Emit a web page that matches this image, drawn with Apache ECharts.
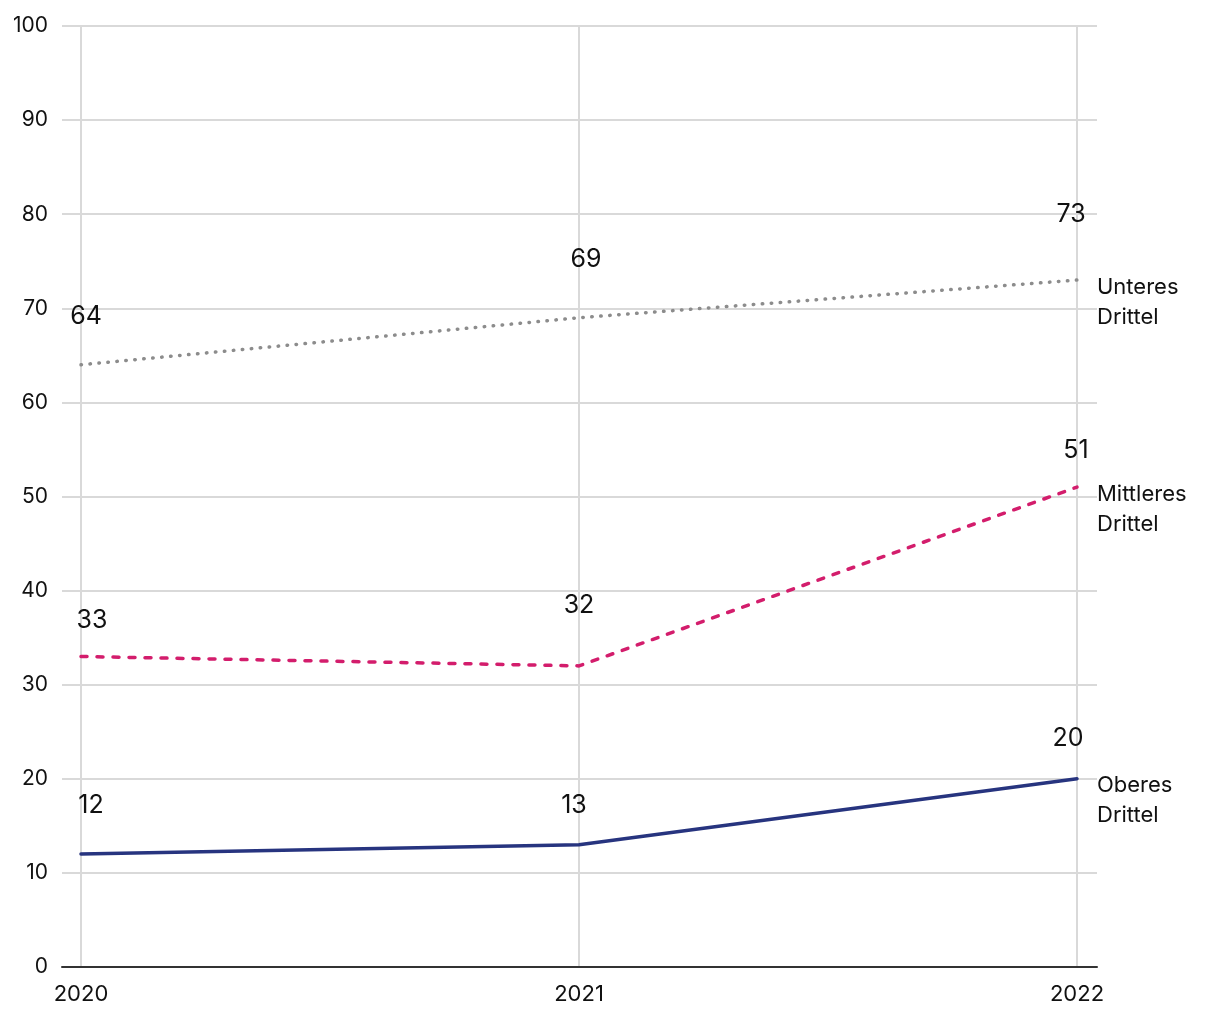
<!DOCTYPE html>
<html>
<head>
<meta charset="utf-8">
<script src="https://cdn.jsdelivr.net/npm/echarts@6/dist/echarts.min.js"></script>
<style>html,body{margin:0;padding:0;background:#fff}#c{width:1220px;height:1020px}</style>
</head>
<body>
<div id="c"></div>
<script>
const years = ['2020', '2021', '2022'];
const unteres = [64, 69, 73];
const mittleres = [33, 32, 51];
const oberes = [12, 13, 20];
const yTicks = [0, 10, 20, 30, 40, 50, 60, 70, 80, 90, 100];
const seriesNames = ['Unteres\nDrittel', 'Mittleres\nDrittel', 'Oberes\nDrittel'];

// label placement (layout, separate from data)
const labelOffsets = {
  u: [[5, -48], [7, -58], [-6, -66]],
  m: [[11, -36], [0, -60], [-1, -37]],
  o: [[10, -49], [-5, -39], [-9, -40]]
};

const FONT = 'Inter';
const chart = echarts.init(document.getElementById('c'));

function withLabels(values, offs) {
  return values.map((v, i) => ({
    value: v,
    label: { offset: offs[i] }
  }));
}

function mkSeries(name, values, offs, color, type, width) {
  return {
    type: 'line',
    name: name,
    xAxisIndex: 0,
    yAxisIndex: 0,
    data: withLabels(values, offs),
    symbol: 'circle',
    symbolSize: 1,
    showSymbol: true,
    itemStyle: { color: 'rgba(0,0,0,0)' },
    lineStyle: { color: color, width: width, type: type, cap: 'round' },
    label: {
      show: true,
      position: 'inside',
      color: '#111',
      fontFamily: FONT,
      fontSize: 25
    },
    endLabel: {
      show: true,
      formatter: name,
      color: '#111',
      fontFamily: FONT,
      fontSize: 22,
      lineHeight: 30,
      align: 'left',
      distance: 20,
      offset: [0, 22]
    },
    emphasis: { disabled: true },
    animation: false
  };
}

const option = {
  animation: false,
  grid: [
    { left: 81, right: 143, top: 26, bottom: 53 },
    { left: 62, right: 123, top: 26, bottom: 53 }
  ],
  xAxis: [
    {
      gridIndex: 0,
      type: 'category',
      data: years,
      boundaryGap: false,
      axisLine: { show: false },
      axisTick: { show: false },
      axisLabel: { color: '#111', fontFamily: FONT, fontSize: 22, margin: 16 },
      splitLine: { show: true, lineStyle: { color: '#d9d9d9', width: 2 } }
    },
    {
      gridIndex: 1,
      type: 'value',
      min: 0, max: 1,
      axisLine: { show: true, lineStyle: { color: '#333', width: 2 } },
      axisTick: { show: false },
      axisLabel: { show: false },
      splitLine: { show: false }
    }
  ],
  yAxis: [
    {
      gridIndex: 0,
      type: 'value',
      min: 0, max: 100, interval: 10,
      axisLine: { show: false },
      axisTick: { show: false },
      axisLabel: { show: false },
      splitLine: { show: false }
    },
    {
      gridIndex: 1,
      type: 'value',
      min: yTicks[0], max: yTicks[yTicks.length - 1], interval: 10,
      axisLine: { show: false },
      axisTick: { show: false },
      axisLabel: { color: '#111', fontFamily: FONT, fontSize: 21, margin: 14 },
      splitLine: { show: true, lineStyle: { color: '#d9d9d9', width: 2 } }
    }
  ],
  series: [
    mkSeries(seriesNames[0], unteres, labelOffsets.u, '#8c8c8c', [0.5, 8.5], 3.5),
    mkSeries(seriesNames[1], mittleres, labelOffsets.m, '#d31d6c', [6, 10], 3.5),
    mkSeries(seriesNames[2], oberes, labelOffsets.o, '#27347f', 'solid', 3.5)
  ]
};
chart.setOption(option);
</script>
</body>
</html>
